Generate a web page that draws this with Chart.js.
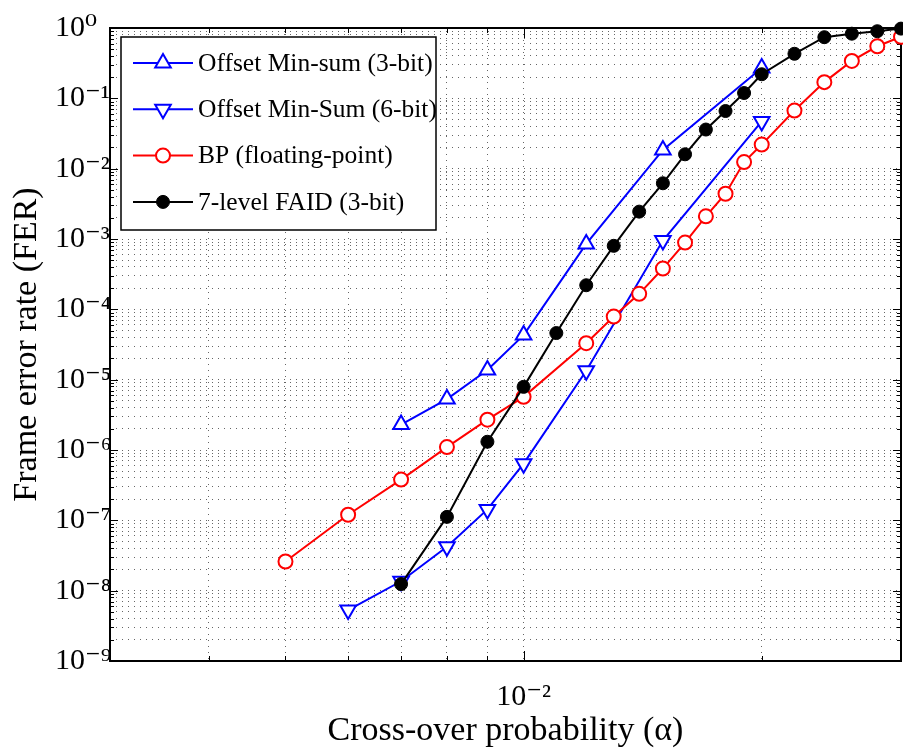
<!DOCTYPE html>
<html>
<head>
<meta charset="utf-8">
<script src="https://cdn.jsdelivr.net/npm/chart.js@4.4.0/dist/chart.umd.min.js"></script>
<style>
    html, body { margin: 0; padding: 0; background: #ffffff; }
    #wrap { width: 903px; height: 749px; }
</style>
</head>
<body>
<div id="wrap"><canvas id="ferChart" width="903" height="749"></canvas></div>
<script>

// =============================
// FER DATA (one pair of arrays per decoder)
// =============================

const alphaOms3 = [0.007, 0.008, 0.009, 0.010, 0.012, 0.015, 0.020]
const ferOms3 = [2.3e-6, 5.3e-6, 1.37e-5, 4.3e-5, 8.5e-4, 1.85e-2, 2.7e-1]

const alphaOms6 = [0.006, 0.007, 0.008, 0.009, 0.010, 0.012, 0.015, 0.020]
const ferOms6 = [5.3e-9, 1.36e-8, 4.2e-8, 1.43e-7, 6.4e-7, 1.34e-5, 9.5e-4, 4.7e-2]

const alphaBp = [0.005, 0.006, 0.007, 0.008, 0.009, 0.010, 0.012, 0.013, 0.014, 0.015,
                 0.016, 0.017, 0.018, 0.019, 0.020, 0.022, 0.024, 0.026, 0.028, 0.030]
const ferBp = [2.6e-8, 1.2e-7, 3.8e-7, 1.1e-6, 2.7e-6, 5.7e-6, 3.3e-5, 7.9e-5, 1.66e-4, 3.8e-4,
               8.9e-4, 2.1e-3, 4.4e-3, 1.24e-2, 2.2e-2, 6.7e-2, 1.7e-1, 3.4e-1, 5.5e-1, 7.5e-1]

const alphaFaid = [0.007, 0.008, 0.009, 0.010, 0.011, 0.012, 0.013, 0.014, 0.015, 0.016,
                   0.017, 0.018, 0.019, 0.020, 0.022, 0.024, 0.026, 0.028, 0.030]
const ferFaid = [1.24e-8, 1.12e-7, 1.31e-6, 7.9e-6, 4.6e-5, 2.2e-4, 8.0e-4, 2.45e-3, 6.2e-3, 1.6e-2,
                 3.6e-2, 6.6e-2, 1.19e-1, 2.2e-1, 4.3e-1, 7.4e-1, 8.3e-1, 9.0e-1, 9.8e-1]

// ticks of the two log axes
const xTicks = [0.003, 0.004, 0.005, 0.006, 0.007, 0.008, 0.009, 0.01, 0.02, 0.03]
const xTickLabels = { 0.01: "10\u207B\u00B2" }

const yDecades = [1e-9, 1e-8, 1e-7, 1e-6, 1e-5, 1e-4, 1e-3, 1e-2, 1e-1, 1]
const yDecadeLabels = ["10\u207B\u2079", "10\u207B\u2078", "10\u207B\u2077", "10\u207B\u2076", "10\u207B\u2075",
                       "10\u207B\u2074", "10\u207B\u00B3", "10\u207B\u00B2", "10\u207B\u00B9", "10\u2070"]
const minorSteps = [2, 3, 4, 5, 6, 7, 8, 9]


const serif = "'Liberation Serif', 'DejaVu Serif', serif"

function pares(xs, ys){
    return xs.map((x, i) => ({ x: x, y: ys[i] }))
}

function ehDecada(v){
    const l = Math.log10(v)
    return Math.abs(l - Math.round(l)) < 1e-9
}


// =============================
// PLUGINS: caixa do eixo + marcas internas, legenda
// =============================

const moldura = {
    id: "moldura",
    beforeDatasetsDraw(chart){
        const { ctx, chartArea: a } = chart
        const xs = chart.scales.x
        const ys = chart.scales.y
        ctx.save()
        ctx.strokeStyle = "#000"
        ctx.lineWidth = 1

        ys.ticks.forEach(t => {
            const y = Math.round(ys.getPixelForValue(t.value)) + 0.5
            const len = ehDecada(t.value) ? 8 : 4
            ctx.beginPath()
            ctx.moveTo(a.left, y); ctx.lineTo(a.left + len, y)
            ctx.moveTo(a.right, y); ctx.lineTo(a.right - len, y)
            ctx.stroke()
        })

        xs.ticks.forEach(t => {
            const x = Math.round(xs.getPixelForValue(t.value)) + 0.5
            const len = ehDecada(t.value) ? 10 : 5
            ctx.beginPath()
            ctx.moveTo(x, a.bottom); ctx.lineTo(x, a.bottom - len)
            ctx.moveTo(x, a.top); ctx.lineTo(x, a.top + len)
            ctx.stroke()
        })

        ctx.lineWidth = 2
        ctx.strokeRect(a.left, a.top, a.right - a.left, a.bottom - a.top)
        ctx.restore()
    }
}

const legenda = {
    id: "legenda",
    afterDatasetsDraw(chart){
        const { ctx, chartArea: a } = chart
        const x0 = a.left + 11
        const y0 = a.top + 9
        const w = 315
        const h = 193

        ctx.save()
        ctx.fillStyle = "#fff"
        ctx.fillRect(x0, y0, w, h)
        ctx.strokeStyle = "#000"
        ctx.lineWidth = 1.5
        ctx.strokeRect(x0, y0, w, h)

        chart.data.datasets.forEach((ds, i) => {
            const y = y0 + 26 + i * 46.3
            ctx.strokeStyle = ds.borderColor
            ctx.lineWidth = ds.borderWidth
            ctx.beginPath()
            ctx.moveTo(x0 + 12, y)
            ctx.lineTo(x0 + 72, y)
            ctx.stroke()

            ctx.fillStyle = ds.pointBackgroundColor
            ctx.strokeStyle = ds.pointBorderColor
            ctx.lineWidth = ds.pointBorderWidth
            Chart.helpers.drawPoint(ctx, {
                pointStyle: ds.pointStyle,
                rotation: ds.pointRotation || 0,
                radius: ds.pointRadius,
                borderWidth: ds.pointBorderWidth
            }, x0 + 42, y)

            ctx.fillStyle = "#000"
            ctx.font = "25.5px " + serif
            ctx.textBaseline = "middle"
            ctx.textAlign = "left"
            ctx.fillText(ds.label, x0 + 77, y + 1)
        })
        ctx.restore()
    }
}


// =============================
// GRÁFICO
// =============================

const canvas = document.getElementById("ferChart")

new Chart(canvas.getContext("2d"), {

    type: "line",

    data: {
        datasets: [
            {
                label: "Offset Min-sum (3-bit)",
                data: pares(alphaOms3, ferOms3),
                borderColor: "#0000ff",
                borderWidth: 2,
                pointStyle: "triangle",
                pointRadius: 9,
                pointBorderWidth: 2,
                pointBorderColor: "#0000ff",
                pointBackgroundColor: "#ffffff",
                order: 3
            },
            {
                label: "Offset Min-Sum (6-bit)",
                data: pares(alphaOms6, ferOms6),
                borderColor: "#0000ff",
                borderWidth: 2,
                pointStyle: "triangle",
                pointRotation: 180,
                pointRadius: 9,
                pointBorderWidth: 2,
                pointBorderColor: "#0000ff",
                pointBackgroundColor: "#ffffff",
                order: 2
            },
            {
                label: "BP (floating-point)",
                data: pares(alphaBp, ferBp),
                borderColor: "#ff0000",
                borderWidth: 2,
                pointStyle: "circle",
                pointRadius: 7,
                pointBorderWidth: 2,
                pointBorderColor: "#ff0000",
                pointBackgroundColor: "#ffffff",
                order: 1
            },
            {
                label: "7-level FAID (3-bit)",
                data: pares(alphaFaid, ferFaid),
                borderColor: "#000000",
                borderWidth: 2,
                pointStyle: "circle",
                pointRadius: 6.5,
                pointBorderWidth: 1,
                pointBorderColor: "#000000",
                pointBackgroundColor: "#000000",
                order: 0
            }
        ]
    },

    options: {
        responsive: false,
        animation: false,
        devicePixelRatio: 1,
        clip: 12,
        elements: { line: { tension: 0 } },
        layout: { autoPadding: false, padding: { left: 55, right: 2, top: 28, bottom: 0 } },
        plugins: {
            legend: { display: false },
            tooltip: { enabled: false }
        },
        scales: {
            x: {
                type: "logarithmic",
                position: "bottom",
                min: 0.003,
                max: 0.03,
                afterBuildTicks: s => { s.ticks = xTicks.map(v => ({ value: v })) },
                afterFit: s => {
                    s.height = 88
                    s.paddingLeft = 0
                    s.paddingRight = 0
                },
                ticks: {
                    autoSkip: false,
                    maxRotation: 0,
                    padding: 0,
                    color: "#000",
                    font: { family: serif, size: 30 },
                    callback: v => xTickLabels[v] || ""
                },
                // tick marks are drawn inward by the plugin; this only pushes the labels down
                grid: { color: "rgba(0,0,0,0.6)", lineWidth: 1, drawTicks: true, tickLength: 18, tickColor: "rgba(0,0,0,0)" },
                border: { display: false, dash: [1, 5] },
                title: {
                    display: true,
                    text: "Cross-over probability (\u03B1)",
                    color: "#000",
                    font: { family: serif, size: 34 },
                    padding: { top: 0, bottom: -2 }
                }
            },
            y: {
                type: "logarithmic",
                min: 1e-9,
                max: 1,
                afterBuildTicks: s => {
                    const t = []
                    yDecades.forEach(d => {
                        t.push({ value: d })
                        if(d < 1) minorSteps.forEach(m => t.push({ value: d * m }))
                    })
                    s.ticks = t
                },
                afterFit: s => { s.width = 55 },
                ticks: {
                    autoSkip: false,
                    crossAlign: "far",
                    color: "#000",
                    font: { family: serif, size: 30 },
                    callback: v => {
                        const i = yDecades.findIndex(d => Math.abs(d - v) / d < 1e-6)
                        return i >= 0 ? yDecadeLabels[i] : ""
                    }
                },
                grid: { color: "rgba(0,0,0,0.6)", lineWidth: 1, drawTicks: false },
                border: { display: false, dash: [1, 5] },
                title: {
                    display: true,
                    text: "Frame error rate (FER)",
                    color: "#000",
                    font: { family: serif, size: 34 },
                    padding: { top: -48, bottom: 0 }
                }
            }
        }
    },

    plugins: [moldura, legenda]

})

</script>
</body>
</html>
